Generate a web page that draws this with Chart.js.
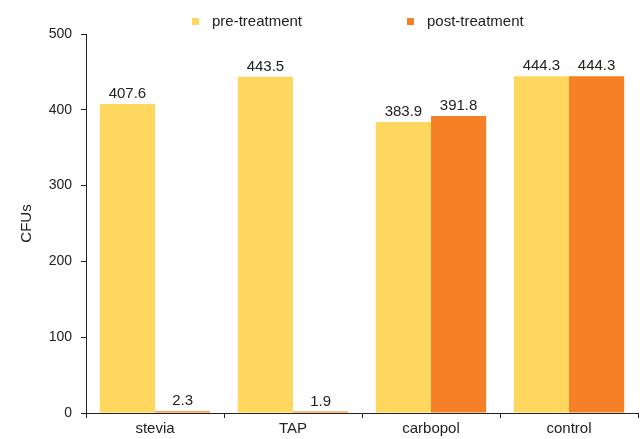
<!DOCTYPE html>
<html>
<head>
<meta charset="utf-8">
<script src="https://cdn.jsdelivr.net/npm/chart.js@4/dist/chart.umd.min.js"></script>
<style>
  html, body { margin: 0; padding: 0; background: #fff; }
  #wrap { width: 643px; height: 439px; position: relative; }
</style>
</head>
<body>
<div id="wrap"><canvas id="c"></canvas></div>
<script>
const categories = ['stevia', 'TAP', 'carbopol', 'control'];
const preTreatment = [407.6, 443.5, 383.9, 444.3];
const postTreatment = [2.3, 1.9, 391.8, 444.3];
const seriesNames = ['pre-treatment', 'post-treatment'];
const yTicks = [0, 100, 200, 300, 400, 500];

const FONT = '"Liberation Sans", Arial, sans-serif';
const INK = '#222';

// Value labels above each bar
const valueLabels = {
  id: 'valueLabels',
  afterDatasetsDraw(chart) {
    const ctx = chart.ctx;
    ctx.save();
    ctx.font = '15px ' + FONT;
    ctx.fillStyle = INK;
    ctx.textAlign = 'center';
    ctx.textBaseline = 'alphabetic';
    chart.data.datasets.forEach((ds, di) => {
      const meta = chart.getDatasetMeta(di);
      meta.data.forEach((bar, i) => {
        ctx.fillText(ds.data[i].toFixed(1), bar.x, bar.y - 6);
      });
    });
    ctx.restore();
  }
};

// Wide-spaced legend row across the top
const topLegend = {
  id: 'topLegend',
  afterDraw(chart, args, opts) {
    const ctx = chart.ctx;
    ctx.save();
    ctx.font = '15px ' + FONT;
    ctx.textBaseline = 'middle';
    ctx.textAlign = 'left';
    chart.data.datasets.forEach((ds, i) => {
      const x = opts.positions[i];
      ctx.fillStyle = ds.backgroundColor;
      ctx.fillRect(x, opts.y - 3.5, 7, 7);
      ctx.fillStyle = INK;
      ctx.fillText(ds.label, x + 20, opts.y);
    });
    ctx.restore();
  }
};

new Chart(document.getElementById('c'), {
  type: 'bar',
  data: {
    labels: categories,
    datasets: [
      { label: seriesNames[0], data: preTreatment, backgroundColor: '#FFD75E' },
      { label: seriesNames[1], data: postTreatment, backgroundColor: '#F58025' }
    ]
  },
  options: {
    responsive: true,
    maintainAspectRatio: false,
    animation: false,
    layout: { padding: { top: 34, right: 5, left: 0, bottom: 0 } },
    datasets: { bar: { barPercentage: 1.0, categoryPercentage: 0.8 } },
    plugins: {
      legend: { display: false },
      tooltip: { enabled: false },
      topLegend: { positions: [192, 407], y: 21.5 }
    },
    scales: {
      x: {
        grid: { offset: true, drawOnChartArea: false, drawTicks: true, tickLength: 5, color: INK },
        border: { display: true, color: INK, width: 1 },
        ticks: { color: INK, font: { size: 15, family: FONT }, padding: 2 },
        afterFit(scale) { scale.height = 26; }
      },
      y: {
        min: 0,
        max: 500,
        afterBuildTicks(scale) { scale.ticks = yTicks.map(v => ({ value: v })); },
        grid: { drawOnChartArea: false, drawTicks: true, tickLength: 5, color: INK },
        border: { display: true, color: INK, width: 1 },
        ticks: { color: INK, font: { size: 14, family: FONT }, padding: 9 },
        title: { display: true, text: 'CFUs', color: INK, font: { size: 15, family: FONT }, padding: { top: 18, bottom: 0 } },
        afterFit(scale) { scale.width = 86; }
      }
    }
  },
  plugins: [valueLabels, topLegend]
});
</script>
</body>
</html>
